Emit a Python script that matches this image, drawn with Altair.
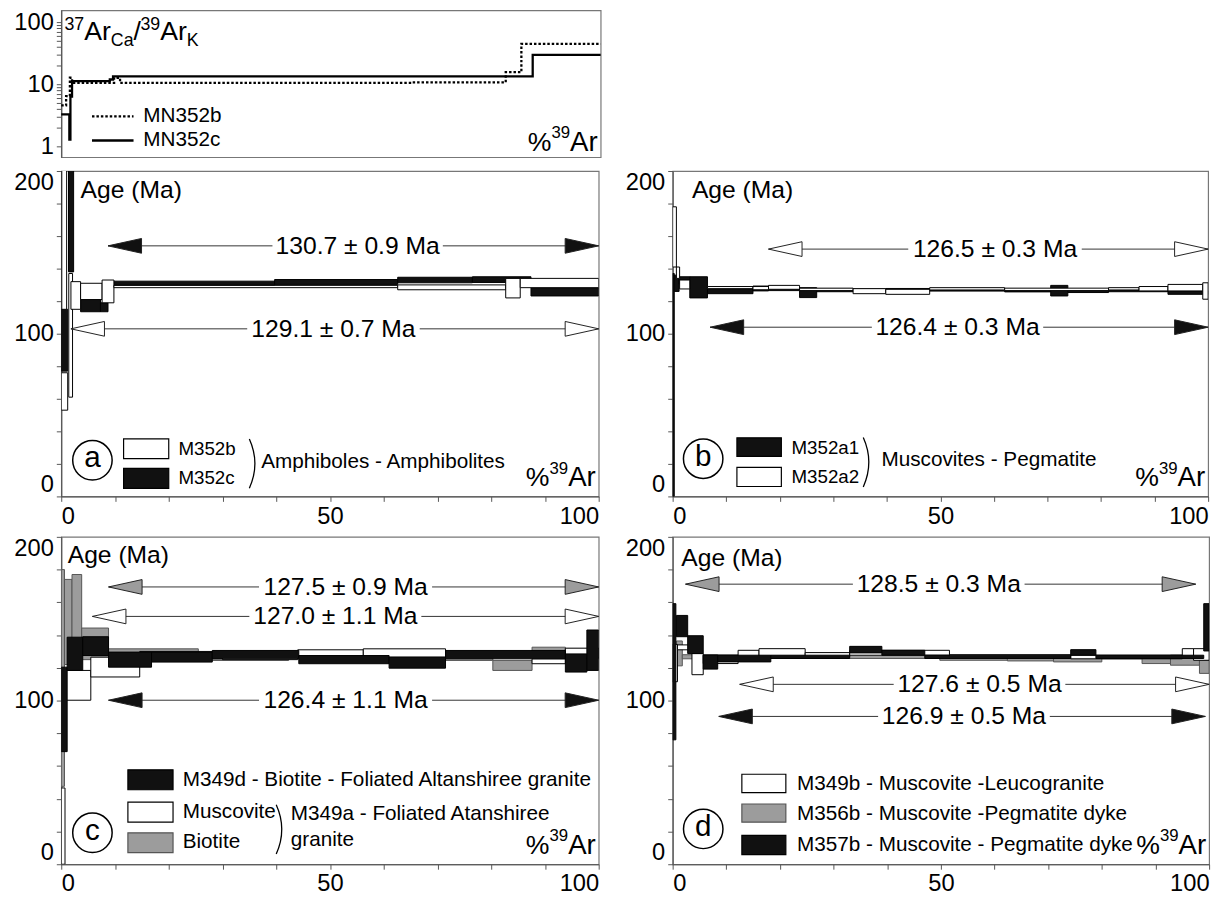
import altair as alt
import pandas as pd

FONT = "Liberation Sans"
BLACK = "#111111"
WHITE = "#ffffff"
GRAY = "#9c9c9c"
GRAY_STROKE = "#555555"

# ---------------- top panel: 37ArCa/39ArK vs %39Ar ----------------
cak_b_pct = [0, 0.9, 1.6, 2.0, 9.8, 10.9, 65.0, 82.4, 85.3, 100]
cak_b_val = [4.6, 6.5, 12.8, 10.6, 12.8, 10.6, 10.8, 15.7, 44.7, 44.7]
cak_c_pct = [0, 1.5, 1.7, 2.0, 9.0, 9.6, 87.4, 100]
cak_c_val = [3.3, 1.3, 6.4, 11.3, 12.0, 13.5, 29.9, 29.9]
cak_legend_names = ["MN352b", "MN352c"]
cak_legend_y = [3.07, 1.26]

# ---------------- panel a ----------------
a_b_x1 = [0, 0.1, 1.4, 1.8, 3.6, 7.6, 9.8, 62.6, 82.7, 85.4]
a_b_x2 = [1.2, 1.0, 2.1, 3.6, 7.6, 9.8, 62.6, 82.7, 85.4, 100]
a_b_lo = [53, 115, 61, 115, 121, 119, 128.3, 127, 122, 128.3]
a_b_hi = [76, 210, 137, 132, 131, 133, 129.7, 130, 134, 134]
a_c_x1 = [0, 1.35, 3.6, 7.3, 8.7, 39.7, 62.6, 76.5, 87.4]
a_c_x2 = [1.2, 2.3, 7.3, 8.7, 39.7, 62.6, 76.5, 87.4, 100]
a_c_lo = [77, 138, 113.5, 113.5, 129.7, 130.3, 131.3, 131.5, 123.2]
a_c_hi = [115, 215, 121.6, 119, 132.3, 133.3, 134.7, 135, 128.3]
a_arrow_y = [154, 103]
a_arrow_l = [8.7, 1.8]
a_arrow_r = [100, 100]
a_arrow_t1 = [39.7, 35.0]
a_arrow_t2 = [70.6, 66.3]
a_arrow_label = ["130.7 ± 0.9 Ma", "129.1 ± 0.7 Ma"]
a_arrow_fill = [BLACK, WHITE]
a_leg_y1 = [23.2, 5.0]
a_leg_y2 = [35.4, 17.2]
a_leg_fill = [WHITE, BLACK]
a_leg_names = ["M352b", "M352c"]
a_leg_name_y = [29.3, 11.0]

# ---------------- panel b ----------------
b_a1_x1 = [0, 0.3, 1.2, 3.2, 6.5, 15.0, 17.9, 23.7, 26.9, 39.8, 62.0, 70.6, 73.8, 81.4, 92.5]
b_a1_x2 = [0.3, 1.2, 3.2, 6.5, 15.0, 17.9, 23.7, 26.9, 39.8, 62.0, 70.6, 73.8, 81.4, 92.5, 100]
b_a1_lo = [0, 126, 130.5, 122, 124.6, 126.3, 126.5, 122.2, 125.8, 126.2, 125.7, 123.2, 125.3, 125.8, 124.2]
b_a1_hi = [137, 136, 135, 135, 127.7, 129.3, 128.5, 128.3, 127.5, 127.8, 127.3, 129.7, 126.9, 127.4, 126.3]
b_a2_x1 = [0, 0.7, 1.3, 6.5, 15.0, 17.9, 23.7, 33.7, 39.8, 48.0, 62.0, 81.4, 87.1, 92.5, 99.0]
b_a2_x2 = [0.7, 1.3, 3.2, 15.0, 17.9, 23.7, 33.7, 39.8, 48.0, 62.0, 81.4, 87.1, 92.5, 99.0, 100]
b_a2_lo = [141, 134, 127.5, 127.7, 127, 127.3, 126.5, 124.6, 124.2, 126.9, 126.5, 126.9, 126.3, 126.3, 121.2]
b_a2_hi = [178, 141, 133, 129, 129, 129.7, 128, 127.7, 127.3, 128.3, 128, 128.3, 129, 130.3, 131.3]
b_arrow_y = [152, 104]
b_arrow_l = [17.9, 7.0]
b_arrow_r = [100, 100]
b_arrow_t1 = [44.4, 37.6]
b_arrow_t2 = [76.0, 68.8]
b_arrow_label = ["126.5 ± 0.3 Ma", "126.4 ± 0.3 Ma"]
b_arrow_fill = [WHITE, BLACK]
b_leg_y1 = [24.6, 6.1]
b_leg_y2 = [36.0, 17.8]
b_leg_fill = [BLACK, WHITE]
b_leg_names = ["M352a1", "M352a2"]
b_leg_name_y = [29.9, 12.1]

# ---------------- panel c ----------------
c_bio_x1 = [0, 0.6, 2.0, 3.8, 8.8, 25.5, 42.3, 56.2, 80.3, 87.6, 93.8]
c_bio_x2 = [0.6, 2.0, 3.8, 8.8, 25.5, 42.3, 56.2, 80.3, 87.6, 93.8, 100]
c_bio_lo = [47.6, 122, 122, 125, 128.5, 124.5, 126.5, 124.5, 118.4, 129.6, 125.5]
c_bio_hi = [180, 174, 177, 144.3, 131.6, 127.5, 129.6, 127.5, 124.5, 132.6, 131.6]
c_mus_x1 = [0, 0.7, 5.5, 14.6, 30.0, 44.0, 56.2, 71.5, 87.6, 93.8]
c_mus_x2 = [0.7, 5.5, 14.6, 30.0, 44.0, 56.2, 71.5, 87.6, 93.8, 100]
c_mus_lo = [0, 100.2, 114.4, 126, 125, 127, 126.5, 127, 122.5, 126]
c_mus_hi = [46.6, 118.4, 126.5, 130, 129.5, 131, 131.6, 130, 125.5, 132]
c_d_x1 = [0, 1.1, 4.0, 8.8, 16.8, 28.1, 44.2, 61.0, 71.5, 93.8, 97.8]
c_d_x2 = [1.1, 4.0, 8.8, 16.8, 28.1, 44.2, 61.0, 71.5, 93.8, 97.8, 100]
c_d_lo = [68.8, 118.4, 127.5, 120.4, 123.5, 125.5, 122.5, 119.8, 125.5, 117.4, 118.4]
c_d_hi = [120.4, 138.7, 139, 129.6, 129.6, 130.6, 127.5, 126.5, 130.6, 128.5, 143.1]
c_arrow_y = [169.4, 151.4, 100.2]
c_arrow_l = [8.8, 5.8, 8.8]
c_arrow_r = [100, 100, 100]
c_arrow_t1 = [37.2, 35.4, 37.2]
c_arrow_t2 = [68.6, 66.6, 68.6]
c_arrow_label = ["127.5 ± 0.9 Ma", "127.0 ± 1.1 Ma", "126.4 ± 1.1 Ma"]
c_arrow_fill = [GRAY, WHITE, BLACK]
c_leg_y1 = [45.5, 25.7, 7.1]
c_leg_y2 = [57.7, 37.9, 19.2]
c_leg_fill = [BLACK, WHITE, GRAY]
c_leg_names = ["M349d - Biotite - Foliated Altanshiree granite", "Muscovite", "Biotite"]
c_leg_name_y = [51.6, 31.8, 13.6]

# ---------------- panel d ----------------
d_356_x1 = [0.7, 1.8, 8.4, 30.0, 49.8, 62.4, 71.0, 80.0, 87.5, 92.8, 98.2]
d_356_x2 = [1.8, 8.4, 30.0, 49.8, 62.4, 71.0, 80.0, 87.5, 92.8, 98.2, 100]
d_356_lo = [121.2, 125.5, 125.7, 125.7, 124.6, 124.2, 123.6, 125.5, 122.6, 121.6, 116.6]
d_356_hi = [136.4, 128.0, 127.7, 128.7, 127.1, 126.7, 126.7, 127.5, 126.3, 127.7, 124.6]
d_349_x1 = [0, 0.9, 3.6, 5.7, 12.2, 16.1, 24.7, 33.0, 51.6, 74.2, 95.0, 97.1]
d_349_x2 = [0.9, 3.6, 5.7, 12.2, 16.1, 24.7, 33.0, 51.6, 74.2, 95.0, 97.1, 100]
d_349_lo = [111.5, 131, 115.8, 122.6, 125.7, 127.1, 126.9, 127.7, 126.5, 125.5, 127.1, 124.6]
d_349_hi = [134.3, 134, 128.7, 127.7, 130.7, 131.7, 129.3, 130.7, 128.0, 127.7, 131.7, 131.7]
d_357_x1 = [0, 0.7, 2.8, 5.7, 8.4, 18.3, 33.0, 39.0, 47.0, 74.2, 78.9, 99.0]
d_357_x2 = [0.6, 2.8, 5.7, 8.4, 18.3, 33.0, 39.0, 47.0, 74.2, 78.9, 99.0, 100]
d_357_lo = [76, 139, 128.7, 119.2, 123.6, 125.7, 129.1, 127.7, 125.7, 127.7, 125.7, 130.3]
d_357_hi = [159.2, 152, 139.6, 127.7, 127.7, 127.7, 133.1, 130.7, 127.7, 131.1, 127.7, 159.2]
d_arrow_y = [171.1, 109.9, 90.3]
d_arrow_l = [2.4, 12.5, 8.6]
d_arrow_r = [97.5, 100, 99.3]
d_arrow_t1 = [34.0, 41.6, 38.7]
d_arrow_t2 = [65.2, 72.8, 69.9]
d_arrow_label = ["128.5 ± 0.3 Ma", "127.6 ± 0.5 Ma", "126.9 ± 0.5 Ma"]
d_arrow_fill = [GRAY, WHITE, BLACK]
d_leg_y1 = [43.8, 25.7, 5.9]
d_leg_y2 = [55.0, 36.8, 17.6]
d_leg_fill = [WHITE, GRAY, BLACK]
d_leg_names = ["M349b - Muscovite -Leucogranite", "M356b - Muscovite -Pegmatite dyke",
               "M357b - Muscovite - Pegmatite dyke"]
d_leg_name_y = [48.9, 30.7, 11.5]

# ---------------------------------------------------------------
XS = alt.Scale(domain=[0, 100], nice=False, zero=False)
YS = alt.Scale(domain=[0, 200], nice=False, zero=False)
TOPY = alt.Scale(type="log", domain=[0.68, 155], nice=False)

LEFT_HEAD = "M 0 0 L 2 -0.44 L 2 0.44 Z"
RIGHT_HEAD = "M 0 0 L -2 -0.44 L -2 0.44 Z"
PAREN = "M 0 -1 Q 0.45 0 0 1"

AX = dict(tickSize=5, labelPadding=3, labelFont=FONT, labelFontSize=24, labelColor="black",
          domainColor="#555555", tickColor="#555555", grid=False, title=None,
          labelOverlap=False, domainWidth=1.2)

X_AXIS = alt.Axis(values=list(range(0, 101, 10)),
                  labelExpr="datum.value % 50 == 0 ? datum.label : ''",
                  labelFlush=True, labelAngle=0, **AX)
Y_AXIS = alt.Axis(values=list(range(0, 201, 20)),
                  labelExpr="datum.value % 100 == 0 ? datum.label : ''",
                  labelFlush=True, **AX)
TOP_AXIS = alt.Axis(values=[1, 2, 3, 4, 5, 6, 7, 8, 9, 10, 20, 30, 40, 50, 60, 70, 80, 90, 100],
                    labelExpr="datum.value == 1 || datum.value == 10 || datum.value == 100 ? format(datum.value, 'd') : ''",
                    format="d", **AX)


def ex(field, top=False):
    if top:
        return alt.X(field, type="quantitative", scale=XS, axis=None)
    return alt.X(field, type="quantitative", scale=XS, axis=X_AXIS)


def ey(field, top=False):
    if top:
        return alt.Y(field, type="quantitative", scale=TOPY, axis=TOP_AXIS)
    return alt.Y(field, type="quantitative", scale=YS, axis=Y_AXIS)


def stroke_for(fill):
    return GRAY_STROKE if fill == GRAY else "#000000"


def steps_frame(groups):
    rows = []
    for x1, x2, lo, hi, fill in groups:
        for a, b, c, d in zip(x1, x2, lo, hi):
            rows.append(dict(x1=a, x2=b, lo=c, hi=d, fill=fill, stroke=stroke_for(fill)))
    return pd.DataFrame(rows)


def txt(x, y, text, size=21, dx=0, dy=0, align="left", top=False):
    df = pd.DataFrame({"x": [x], "y": [y], "t": [text]})
    return alt.Chart(df).mark_text(font=FONT, fontSize=size, dx=dx, dy=dy, align=align,
                                   baseline="middle", color="black").encode(
        x=ex("x", top), y=ey("y", top), text="t:N")


def pct_label(y, top=False):
    return [txt(100, y, "Ar", 28, dx=-3, align="right", top=top),
            txt(100, y, "39", 17, dx=-31, dy=-10, align="right", top=top),
            txt(100, y, "%", 27, dx=-50, align="right", top=top)]


def age_panel(w, h, groups, arrows, legend, letter, letter_xy, paren, extra_texts, age_x, age_y):
    steps = steps_frame(groups)
    layers = [alt.Chart(steps).mark_rect(clip=True, strokeWidth=1).encode(
        x=ex("x1"), x2="x2:Q", y=ey("lo"), y2="hi:Q",
        fill=alt.Fill("fill:N", scale=None), stroke=alt.Stroke("stroke:N", scale=None))]

    ay, al, ar, t1, t2, lab, fil = arrows
    seg = pd.DataFrame({"xa": al + [b + 0.4 for b in t2],
                        "xb": [a - 0.4 for a in t1] + ar,
                        "y": ay + ay})
    layers.append(alt.Chart(seg).mark_rule(color="#333333", strokeWidth=1).encode(
        x=ex("xa"), x2="xb:Q", y=ey("y")))
    heads_l = pd.DataFrame({"x": al, "y": ay, "fill": fil})
    heads_r = pd.DataFrame({"x": ar, "y": ay, "fill": fil})
    for dfh, shp in ((heads_l, LEFT_HEAD), (heads_r, RIGHT_HEAD)):
        layers.append(alt.Chart(dfh).mark_point(shape=shp, size=1156, filled=True, opacity=1,
                                                stroke="#222222", strokeWidth=1).encode(
            x=ex("x"), y=ey("y"), fill=alt.Fill("fill:N", scale=None)))
    labs = pd.DataFrame({"x": [(a + b) / 2 for a, b in zip(t1, t2)], "y": ay, "t": lab})
    layers.append(alt.Chart(labs).mark_text(font=FONT, fontSize=25, baseline="middle",
                                            align="center", color="black").encode(
        x=ex("x"), y=ey("y"), text="t:N"))

    ly1, ly2, lfill, lnames, lny, lx1, lx2, ltx, lsize = legend
    leg = pd.DataFrame({"x1": [lx1] * len(ly1), "x2": [lx2] * len(ly1), "y1": ly1, "y2": ly2,
                        "fill": lfill, "stroke": [stroke_for(f) for f in lfill]})
    layers.append(alt.Chart(leg).mark_rect(strokeWidth=1.2).encode(
        x=ex("x1"), x2="x2:Q", y=ey("y1"), y2="y2:Q",
        fill=alt.Fill("fill:N", scale=None), stroke=alt.Stroke("stroke:N", scale=None)))
    for name, yy, sz in zip(lnames, lny, lsize):
        layers.append(txt(ltx, yy, name, sz))

    cx, cy = letter_xy
    layers.append(alt.Chart(pd.DataFrame({"x": [cx], "y": [cy]})).mark_point(
        shape="circle", filled=False, size=1600, color="black", strokeWidth=1.5, opacity=1).encode(
        x=ex("x"), y=ey("y")))
    layers.append(txt(cx, cy, letter, 30, dy=-2, align="center"))

    if paren is not None:
        px, py = paren
        layers.append(alt.Chart(pd.DataFrame({"x": [px], "y": [py]})).mark_point(
            shape=PAREN, filled=False, size=2500, color="black", strokeWidth=1.3, opacity=1).encode(
            x=ex("x"), y=ey("y")))
    for (tx, ty, tt, ts) in extra_texts:
        layers.append(txt(tx, ty, tt, ts))

    layers.append(txt(age_x, age_y, "Age (Ma)", 25))
    layers += pct_label(11)
    return alt.layer(*layers).properties(width=w, height=h)


# ---------------- build top panel ----------------
df_b = pd.DataFrame({"pct": cak_b_pct, "val": cak_b_val})
df_c = pd.DataFrame({"pct": cak_c_pct, "val": cak_c_val})
top_layers = [
    alt.Chart(df_c).mark_line(interpolate="step-after", color="black", strokeWidth=2.3).encode(
        x=ex("pct", True), y=ey("val", True)),
    alt.Chart(df_b).mark_line(interpolate="step-after", color="black", strokeWidth=2.3,
                              strokeDash=[2.5, 2]).encode(
        x=ex("pct", True), y=ey("val", True)),
]
leg_lines = pd.DataFrame({"x1": [5.7, 5.7], "x2": [13.4, 13.4], "y": cak_legend_y,
                          "k": cak_legend_names})
top_layers.append(alt.Chart(leg_lines.iloc[[0]]).mark_rule(color="black", strokeWidth=2.3,
                                                            strokeDash=[2.5, 2]).encode(
    x=ex("x1", True), x2="x2:Q", y=ey("y", True)))
top_layers.append(alt.Chart(leg_lines.iloc[[1]]).mark_rule(color="black", strokeWidth=2.3).encode(
    x=ex("x1", True), x2="x2:Q", y=ey("y", True)))
for nm, yy in zip(cak_legend_names, cak_legend_y):
    top_layers.append(txt(15.2, yy, nm, 21, top=True))
# 37ArCa/39ArK title pieces
title_pieces = [("37", 0, -7, 18), ("Ar", 20, 0, 27), ("Ca", 47, 9, 18), ("/", 70, 0, 27),
                ("39", 77, -7, 18), ("Ar", 97, 0, 27), ("K", 124, 9, 18)]
for t, dx, dy, sz in title_pieces:
    top_layers.append(txt(0.6, 69, t, sz, dx=dx, dy=dy, top=True))
top_layers += pct_label(1.16, top=True)
top = alt.layer(*top_layers).properties(width=547, height=149)

# ---------------- age panels ----------------
pa = age_panel(
    545, 330,
    [(a_c_x1, a_c_x2, a_c_lo, a_c_hi, BLACK), (a_b_x1, a_b_x2, a_b_lo, a_b_hi, WHITE)],
    (a_arrow_y, a_arrow_l, a_arrow_r, a_arrow_t1, a_arrow_t2, a_arrow_label, a_arrow_fill),
    (a_leg_y1, a_leg_y2, a_leg_fill, a_leg_names, a_leg_name_y, 11.6, 20.0, 21.8, [19, 19]),
    "a", (5.8, 22.2), (35.0, 20.2),
    [(37.2, 21.2, "Amphiboles - Amphibolites", 21)], 3.6, 188)

pb = age_panel(
    543, 330,
    [(b_a1_x1, b_a1_x2, b_a1_lo, b_a1_hi, BLACK), (b_a2_x1, b_a2_x2, b_a2_lo, b_a2_hi, WHITE)],
    (b_arrow_y, b_arrow_l, b_arrow_r, b_arrow_t1, b_arrow_t2, b_arrow_label, b_arrow_fill),
    (b_leg_y1, b_leg_y2, b_leg_fill, b_leg_names, b_leg_name_y, 12.0, 20.3, 22.2, [19, 19]),
    "b", (5.7, 23.2), (35.6, 21.0),
    [(39.0, 22.2, "Muscovites - Pegmatite", 21)], 3.6, 188)

pc = age_panel(
    545, 332,
    [(c_bio_x1, c_bio_x2, c_bio_lo, c_bio_hi, GRAY), (c_mus_x1, c_mus_x2, c_mus_lo, c_mus_hi, WHITE),
     (c_d_x1, c_d_x2, c_d_lo, c_d_hi, BLACK)],
    (c_arrow_y, c_arrow_l, c_arrow_r, c_arrow_t1, c_arrow_t2, c_arrow_label, c_arrow_fill),
    (c_leg_y1, c_leg_y2, c_leg_fill, c_leg_names, c_leg_name_y, 12.4, 20.8, 22.6, [21, 21, 21]),
    "c", (5.8, 19.2), (40.0, 21.3),
    [(42.7, 30.4, "M349a - Foliated Atanshiree", 21), (42.7, 14.8, "granite", 21)], 1.2, 189)

pd_ = age_panel(
    544, 332,
    [(d_356_x1, d_356_x2, d_356_lo, d_356_hi, GRAY), (d_349_x1, d_349_x2, d_349_lo, d_349_hi, WHITE),
     (d_357_x1, d_357_x2, d_357_lo, d_357_hi, BLACK)],
    (d_arrow_y, d_arrow_l, d_arrow_r, d_arrow_t1, d_arrow_t2, d_arrow_label, d_arrow_fill),
    (d_leg_y1, d_leg_y2, d_leg_fill, d_leg_names, d_leg_name_y, 12.9, 21.1, 23.2, [21, 21, 21]),
    "d", (5.7, 21.6), None, [], 1.6, 187)

rows = alt.vconcat(
    alt.hconcat(pa, pb, spacing=23),
    alt.hconcat(pc, pd_, spacing=23),
    spacing=6,
)

chart = alt.vconcat(top, rows, spacing=9).properties(
    padding={"left": 5, "top": -5, "right": 5, "bottom": 0},
    background="white",
).configure_view(stroke="#777777", strokeWidth=1.2)

chart.save("out.html", embed_options={"renderer": "svg", "actions": False})
